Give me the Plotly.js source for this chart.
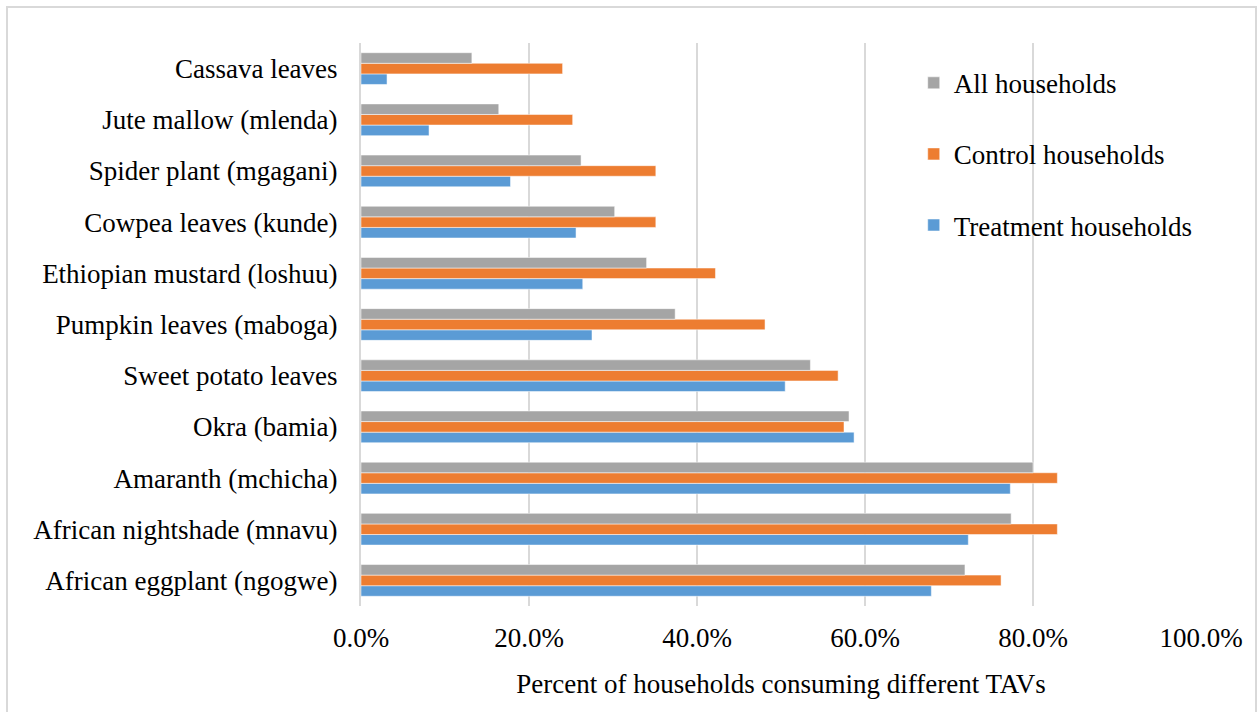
<!DOCTYPE html>
<html>
<head>
<meta charset="utf-8">
<script src="https://cdn.plot.ly/plotly-3.0.1.min.js"></script>
<style>
html,body{margin:0;padding:0;background:#fff;}
#frame{position:absolute;left:6px;top:6px;width:1251px;height:720px;border:2px solid #d9d9d9;box-sizing:border-box;}
#chart{position:absolute;left:0;top:0;width:1260px;height:712px;}
</style>
</head>
<body>
<div id="frame"></div>
<div id="chart"></div>
<script>
const categories = [
  "African eggplant (ngogwe)",
  "African nightshade (mnavu)",
  "Amaranth (mchicha)",
  "Okra (bamia)",
  "Sweet potato leaves",
  "Pumpkin leaves (maboga)",
  "Ethiopian mustard (loshuu)",
  "Cowpea leaves (kunde)",
  "Spider plant (mgagani)",
  "Jute mallow (mlenda)",
  "Cassava leaves"
];
const treatment = [67.9, 72.3, 77.3, 58.7, 50.5, 27.5, 26.4, 25.6, 17.8, 8.1, 3.1];
const control   = [76.2, 82.9, 82.9, 57.5, 56.8, 48.1, 42.2, 35.1, 35.1, 25.2, 24.0];
const allHH     = [71.9, 77.4, 80.0, 58.1, 53.5, 37.4, 34.0, 30.2, 26.2, 16.4, 13.2];
const xTicks = [0, 20, 40, 60, 80, 100];
const xTickText = ["0.0%", "20.0%", "40.0%", "60.0%", "80.0%", "100.0%"];

const font = {family: "'Liberation Serif', 'Times New Roman', serif", size: 27, color: "#000"};

function tr(name, vals, color, rank) {
  return {
    type: "bar", orientation: "h", name: name,
    y: categories, x: vals, legendgroup: name, legendrank: rank,
    marker: {color: color, line: {color: "rgba(255,255,255,0.5)", width: 1}},
    hoverinfo: "x+y"
  };
}
const data = [
  tr("Treatment households", treatment, "#5b9bd5", 3),
  tr("Control households", control, "#ed7d31", 2),
  tr("All households", allHH, "#a5a5a5", 1)
];

const layout = {
  width: 1260, height: 712,
  margin: {l: 361, r: 59, t: 43, b: 106},
  paper_bgcolor: "rgba(0,0,0,0)",
  plot_bgcolor: "rgba(0,0,0,0)",
  font: font,
  barmode: "group",
  bargap: 0.38,
  bargroupgap: 0,
  showlegend: true,
  legend: {
    x: 0.658, y: 0.972, xanchor: "left", yanchor: "top",
    traceorder: "grouped", tracegroupgap: 33,
    font: font, bgcolor: "rgba(0,0,0,0)", itemwidth: 30
  },
  xaxis: {
    range: [0, 100], tickvals: xTicks, ticktext: xTickText,
    showgrid: true, gridcolor: "#d9d9d9", gridwidth: 2,
    zeroline: false, showline: false, ticks: "",
    ticklabelstandoff: 13,
    title: {text: "Percent of households consuming different TAVs", font: font, standoff: 22},
    fixedrange: true
  },
  yaxis: {
    type: "category", categoryorder: "array", categoryarray: categories,
    showgrid: false, zeroline: false,
    showline: true, linecolor: "#d9d9d9", linewidth: 2,
    ticks: "", ticklabelstandoff: 16,
    fixedrange: true
  }
};
Plotly.newPlot("chart", data, layout, {displayModeBar: false, staticPlot: true});
</script>
</body>
</html>
